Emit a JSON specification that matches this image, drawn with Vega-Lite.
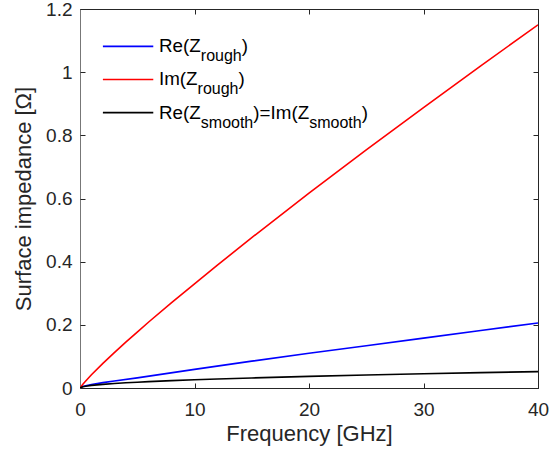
{
  "$schema": "https://vega.github.io/schema/vega-lite/v6.json",
  "autosize": {"type": "none"},
  "padding": {"left": 80, "top": 9, "right": 18, "bottom": 72},
  "width": 458,
  "height": 379,
  "background": "white",
  "config": {
    "font": "Liberation Sans",
    "view": {"stroke": "#262626", "strokeWidth": 1},
    "axis": {
      "grid": false,
      "domainColor": "#262626",
      "tickColor": "#262626",
      "labelColor": "#262626",
      "titleColor": "#262626",
      "labelFont": "Liberation Sans",
      "titleFont": "Liberation Sans",
      "labelFontSize": 19,
      "titleFontSize": 22,
      "titleFontWeight": "normal",
      "labelFlush": false,
      "labelOverlap": false,
      "domainWidth": 1,
      "tickSize": 5,
      "tickWidth": 1
    }
  },
  "datasets": {
    "curves": [
      {"f": 0, "v": 0, "s": "re_rough"},
      {"f": 0.25, "v": 0.005, "s": "re_rough"},
      {"f": 0.5, "v": 0.007, "s": "re_rough"},
      {"f": 1, "v": 0.011, "s": "re_rough"},
      {"f": 2, "v": 0.017, "s": "re_rough"},
      {"f": 3, "v": 0.022, "s": "re_rough"},
      {"f": 5, "v": 0.032, "s": "re_rough"},
      {"f": 10, "v": 0.059, "s": "re_rough"},
      {"f": 15, "v": 0.085, "s": "re_rough"},
      {"f": 20, "v": 0.11, "s": "re_rough"},
      {"f": 25, "v": 0.134, "s": "re_rough"},
      {"f": 30, "v": 0.158, "s": "re_rough"},
      {"f": 35, "v": 0.182, "s": "re_rough"},
      {"f": 40, "v": 0.206, "s": "re_rough"},
      {"f": 0, "v": 0, "s": "im_rough"},
      {"f": 0.25, "v": 0.012, "s": "im_rough"},
      {"f": 0.5, "v": 0.022, "s": "im_rough"},
      {"f": 1, "v": 0.042, "s": "im_rough"},
      {"f": 2, "v": 0.078, "s": "im_rough"},
      {"f": 3, "v": 0.112, "s": "im_rough"},
      {"f": 4, "v": 0.145, "s": "im_rough"},
      {"f": 5, "v": 0.177, "s": "im_rough"},
      {"f": 6, "v": 0.209, "s": "im_rough"},
      {"f": 8, "v": 0.27, "s": "im_rough"},
      {"f": 10, "v": 0.33, "s": "im_rough"},
      {"f": 12, "v": 0.389, "s": "im_rough"},
      {"f": 15, "v": 0.476, "s": "im_rough"},
      {"f": 20, "v": 0.617, "s": "im_rough"},
      {"f": 25, "v": 0.754, "s": "im_rough"},
      {"f": 30, "v": 0.888, "s": "im_rough"},
      {"f": 35, "v": 1.02, "s": "im_rough"},
      {"f": 40, "v": 1.15, "s": "im_rough"},
      {"f": 0, "v": 0, "s": "smooth"},
      {"f": 0.25, "v": 0.0041, "s": "smooth"},
      {"f": 0.5, "v": 0.0058, "s": "smooth"},
      {"f": 1, "v": 0.0082, "s": "smooth"},
      {"f": 2, "v": 0.0116, "s": "smooth"},
      {"f": 3, "v": 0.0142, "s": "smooth"},
      {"f": 4, "v": 0.0164, "s": "smooth"},
      {"f": 5, "v": 0.0184, "s": "smooth"},
      {"f": 6, "v": 0.0201, "s": "smooth"},
      {"f": 8, "v": 0.0232, "s": "smooth"},
      {"f": 10, "v": 0.026, "s": "smooth"},
      {"f": 12, "v": 0.0285, "s": "smooth"},
      {"f": 15, "v": 0.0318, "s": "smooth"},
      {"f": 20, "v": 0.0368, "s": "smooth"},
      {"f": 25, "v": 0.0411, "s": "smooth"},
      {"f": 30, "v": 0.045, "s": "smooth"},
      {"f": 35, "v": 0.0486, "s": "smooth"},
      {"f": 40, "v": 0.052, "s": "smooth"}
    ],
    "legendLines": [
      {"f1": 2.0, "f2": 6.4, "v": 1.0816, "s": "re_rough"},
      {"f1": 2.0, "f2": 6.4, "v": 0.977, "s": "im_rough"},
      {"f1": 2.0, "f2": 6.4, "v": 0.872, "s": "smooth"}
    ],
    "legendMain": [
      {"f": 6.9, "v": 1.0625, "t": "Re(Z"},
      {"f": 14.12, "v": 1.0625, "t": ")"},
      {"f": 6.9, "v": 0.9578, "t": "Im(Z"},
      {"f": 13.84, "v": 0.9578, "t": ")"},
      {"f": 6.9, "v": 0.853, "t": "Re(Z"},
      {"f": 15.14, "v": 0.853, "t": ")=Im(Z"},
      {"f": 24.6, "v": 0.853, "t": ")"}
    ],
    "legendSub": [
      {"f": 10.55, "v": 1.0625, "t": "rough"},
      {"f": 10.27, "v": 0.9578, "t": "rough"},
      {"f": 10.55, "v": 0.853, "t": "smooth"},
      {"f": 20.02, "v": 0.853, "t": "smooth"}
    ],
    "anchor": [{"f": 0, "v": 0}]
  },
  "layer": [
    {
      "layer": [
        {
          "data": {"name": "curves"},
          "mark": {"type": "line", "strokeWidth": 1.6, "clip": true},
          "encoding": {
            "x": {"field": "f", "type": "quantitative",
                  "scale": {"domain": [0, 40], "nice": false},
                  "axis": {"orient": "bottom", "values": [0, 10, 20, 30, 40], "title": "Frequency [GHz]", "ticks": false, "labelPadding": 12, "titlePadding": 4}},
            "y": {"field": "v", "type": "quantitative",
                  "scale": {"domain": [0, 1.2], "nice": false, "zero": false},
                  "axis": {"orient": "left", "values": [0, 0.2, 0.4, 0.6, 0.8, 1, 1.2], "format": "~g", "title": "Surface impedance [Ω]", "ticks": false, "labelPadding": 8, "titlePadding": 10, "domainColor": "#777777"}},
            "color": {"field": "s", "type": "nominal",
                      "scale": {"domain": ["re_rough", "im_rough", "smooth"], "range": ["#0000ff", "#ff0000", "#000000"]},
                      "legend": null},
            "detail": {"field": "s"}
          }
        },
        {
          "data": {"name": "legendLines"},
          "mark": {"type": "rule", "strokeWidth": 1.6},
          "encoding": {
            "x": {"field": "f1", "type": "quantitative"},
            "x2": {"field": "f2"},
            "y": {"field": "v", "type": "quantitative"},
            "color": {"field": "s", "type": "nominal", "legend": null}
          }
        },
        {
          "data": {"name": "legendMain"},
          "mark": {"type": "text", "align": "left", "baseline": "alphabetic", "fontSize": 18.8, "color": "#000000"},
          "encoding": {
            "x": {"field": "f", "type": "quantitative"},
            "y": {"field": "v", "type": "quantitative"},
            "text": {"field": "t"}
          }
        },
        {
          "data": {"name": "legendSub"},
          "mark": {"type": "text", "align": "left", "baseline": "alphabetic", "fontSize": 16, "dy": 9, "color": "#000000"},
          "encoding": {
            "x": {"field": "f", "type": "quantitative"},
            "y": {"field": "v", "type": "quantitative"},
            "text": {"field": "t"}
          }
        }
      ]
    },
    {
      "data": {"name": "anchor"},
      "mark": {"type": "point", "opacity": 0},
      "encoding": {
        "x": {"field": "f", "type": "quantitative",
              "axis": {"orient": "bottom", "offset": -5, "values": [0, 10, 20, 30, 40], "labels": false, "title": null, "domain": false}},
        "y": {"field": "v", "type": "quantitative",
              "axis": {"orient": "left", "offset": -5, "values": [0, 0.2, 0.4, 0.6, 0.8, 1, 1.2], "labels": false, "title": null, "domain": false}}
      }
    },
    {
      "data": {"name": "anchor"},
      "mark": {"type": "point", "opacity": 0},
      "encoding": {
        "x": {"field": "f", "type": "quantitative",
              "axis": {"orient": "top", "offset": -5, "values": [0, 10, 20, 30, 40], "labels": false, "title": null, "domain": false}},
        "y": {"field": "v", "type": "quantitative",
              "axis": {"orient": "right", "offset": -5, "values": [0, 0.2, 0.4, 0.6, 0.8, 1, 1.2], "labels": false, "title": null, "domain": false}}
      }
    }
  ],
  "resolve": {"axis": {"x": "independent", "y": "independent"}}
}
